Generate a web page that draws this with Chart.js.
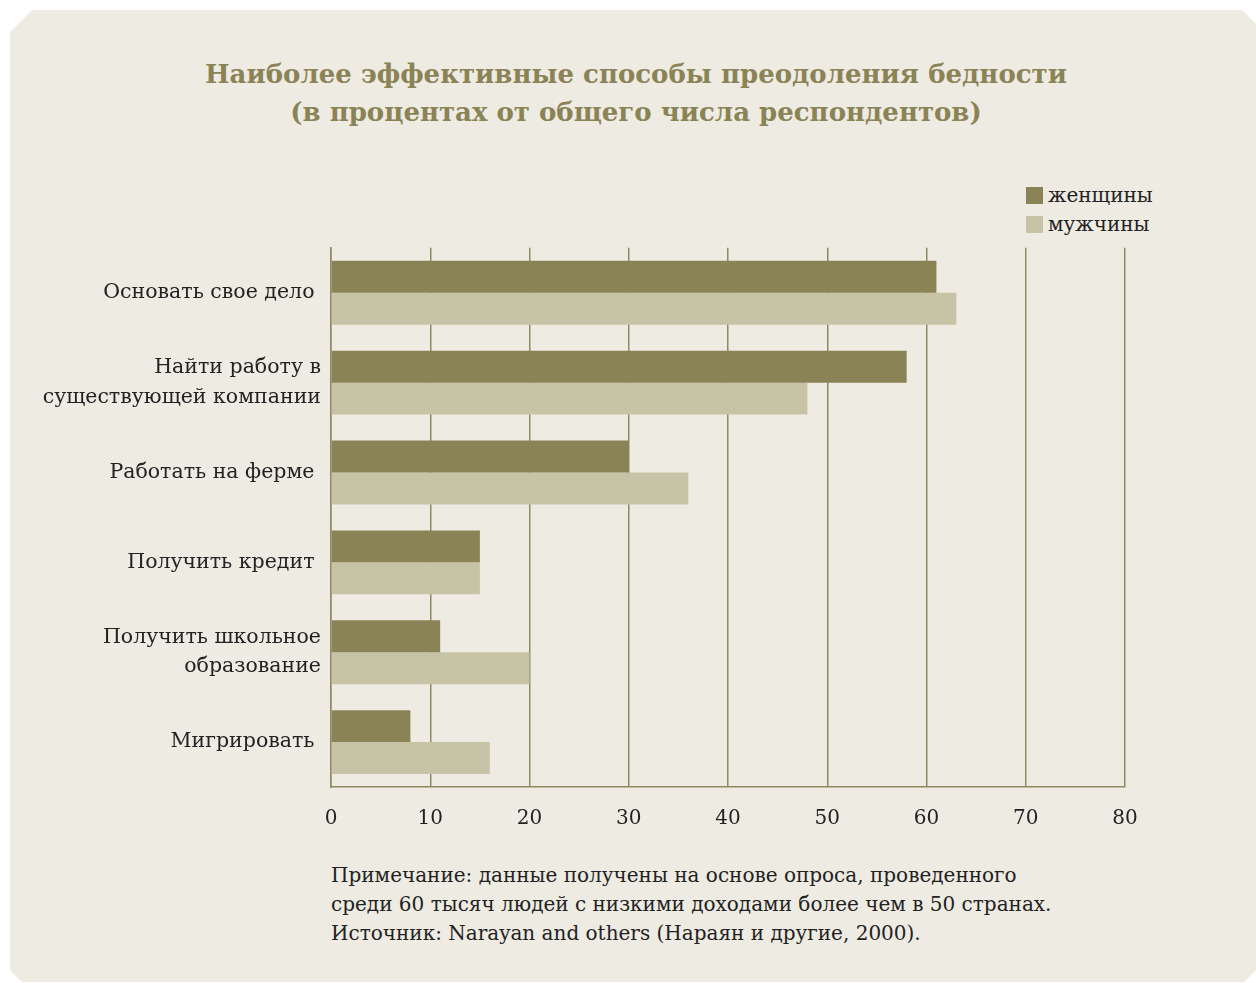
<!DOCTYPE html>
<html>
<head>
<meta charset="utf-8">
<script src="https://cdn.jsdelivr.net/npm/chart.js@4"></script>
<style>
  body { margin: 0; background: #ffffff; width: 1256px; height: 983px; overflow: hidden; font-family: "DejaVu Serif", serif; }
  .panel {
    position: absolute; left: 10px; top: 10px; width: 1246px; height: 972px;
    background: #eeebe3;
    clip-path: polygon(22px 0, 1232px 0, 1246px 14px, 1246px 960px, 1234px 972px, 12px 972px, 0 960px, 0 22px);
  }
  .title {
    position: absolute; left: 0; width: 1272px; top: 55px; text-align: center;
    color: #8a8355; font-weight: bold; font-size: 26px; line-height: 38px;
  }
  .legend { position: absolute; left: 1026px; top: 181px; font-size: 20px; color: #222; }
  .legend div { height: 29px; line-height: 29px; }
  .legend span { display: inline-block; width: 17px; height: 17px; vertical-align: -2px; margin-right: 5px; }
  .note { position: absolute; left: 331px; top: 861px; font-size: 20px; line-height: 29px; color: #222; }
  .wrap { position: absolute; left: 0; top: 223px; width: 1256px; height: 624px; }
</style>
</head>
<body>
<div class="panel"></div>
<div class="title">Наиболее эффективные способы преодоления бедности<br>(в процентах от общего числа респондентов)</div>
<div class="legend">
  <div><span style="background:#8a8355"></span>женщины</div>
  <div><span style="background:#c7c3a6"></span>мужчины</div>
</div>
<div class="wrap"><canvas id="myChart"></canvas></div>
<div class="note">Примечание: данные получены на основе опроса, проведенного<br>среди 60 тысяч людей с низкими доходами более чем в 50 странах.<br>Источник: Narayan and others (Нараян и другие, 2000).</div>
<script>
const ctx = document.getElementById('myChart')

const labels = [
  'Основать свое дело ',
  ['Найти работу в', 'существующей компании'],
  'Работать на ферме ',
  'Получить кредит ',
  ['Получить школьное', 'образование'],
  'Мигрировать '
]
const women = [61, 58, 30, 15, 11, 8]
const men = [63, 48, 36, 15, 20, 16]

const olive = '#8a8355'
const gridColor = '#8f8a64'

const data = {
  labels,
  datasets: [
    { label: 'женщины', data: women, backgroundColor: olive, barPercentage: 1, categoryPercentage: 0.711 },
    { label: 'мужчины', data: men, backgroundColor: '#c7c3a6', barPercentage: 1, categoryPercentage: 0.711 }
  ]
}

const config = {
  type: 'bar',
  data: data,
  options: {
    indexAxis: 'y',
    responsive: true,
    maintainAspectRatio: false,
    animation: false,
    layout: { padding: { top: 8, right: 131, left: 0, bottom: 0 } },
    plugins: { legend: { display: false }, tooltip: { enabled: false } },
    scales: {
      x: {
        min: 0, max: 80,
        ticks: { stepSize: 10, color: '#222', padding: 20, font: { family: 'DejaVu Serif', size: 20 } },
        grid: { color: gridColor, lineWidth: 1.5, drawTicks: false },
        border: { display: true, color: gridColor, width: 1.5 },
        afterFit: (s) => { s.height = 60 }
      },
      y: {
        ticks: { color: '#222', padding: 10, font: { family: 'DejaVu Serif', size: 20.5, lineHeight: 1.45 } },
        grid: { display: false, drawTicks: false },
        border: { display: true, color: gridColor, width: 1.5 },
        afterFit: (s) => { s.width = 331 }
      }
    }
  }
}

const myChart = new Chart(ctx, config)
</script>
</body>
</html>
